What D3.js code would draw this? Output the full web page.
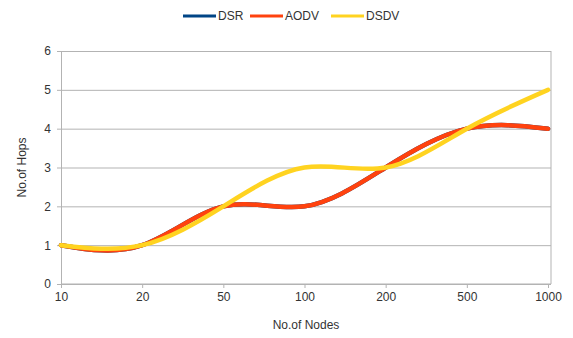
<!DOCTYPE html>
<html>
<head>
<meta charset="utf-8">
<script src="https://cdn.jsdelivr.net/npm/d3@7.9.0/dist/d3.min.js"></script>
<style>
  html, body { margin: 0; padding: 0; background: #fff; }
  svg { display: block; font-family: "Liberation Sans", Arial, sans-serif; }
  .grid line { stroke: #b3b3b3; }
  .grid path { display: none; }
  .axis path, .axis line { stroke: #b3b3b3; }
  .axis text { fill: #333; font-size: 12px; }
</style>
</head>
<body>
<div id="chart"></div>
<script>
// categories on the x axis (node counts)
const nodes = ['10', '20', '50', '100', '200', '500', '1000'];
// hop counts per protocol
const dsr  = [1, 1, 2, 2, 3, 4, 4];
const aodv = [1, 1, 2, 2, 3, 4, 4];
const dsdv = [1, 1, 2, 3, 3, 4, 5];
const yTicks = [0, 1, 2, 3, 4, 5, 6];

const seriesNames  = ['DSR', 'AODV', 'DSDV'];
const seriesValues = [dsr, aodv, dsdv];
const colors = ['#004586', '#ff420e', '#ffd320'];

const width = 573, height = 338;
const margin = { top: 51, right: 22, bottom: 54, left: 61 };

const svg = d3.select('#chart').append('svg')
  .attr('width', width)
  .attr('height', height);

const x = d3.scalePoint()
  .domain(nodes)
  .range([margin.left, width - margin.right - 3]);

const y = d3.scaleLinear()
  .domain([0, 6])
  .range([height - margin.bottom, margin.top]);

// horizontal gridlines
svg.append('g')
  .attr('class', 'grid')
  .attr('transform', `translate(${margin.left},0)`)
  .call(d3.axisLeft(y).tickValues(yTicks).tickFormat('')
    .tickSize(-(width - margin.right - margin.left)));

// right border line
svg.append('line')
  .attr('x1', width - margin.right).attr('x2', width - margin.right)
  .attr('y1', margin.top).attr('y2', y(0))
  .attr('stroke', '#b3b3b3');

// axes
svg.append('g')
  .attr('class', 'axis')
  .attr('transform', `translate(${margin.left},0)`)
  .call(d3.axisLeft(y).tickValues(yTicks).tickFormat(d3.format('d'))
    .tickSize(4).tickPadding(6).tickSizeOuter(0));

svg.append('g')
  .attr('class', 'axis')
  .attr('transform', `translate(0,${y(0)})`)
  .call(d3.axisBottom(x).tickSize(4).tickPadding(4).tickSizeOuter(0))
  .call(g => g.select('.domain').attr('d', `M${margin.left},0H${width - margin.right}`));

// axis titles
svg.append('text')
  .attr('x', (margin.left + width - margin.right) / 2)
  .attr('y', 329)
  .attr('text-anchor', 'middle')
  .attr('font-size', 12)
  .attr('fill', '#333')
  .text('No.of Nodes');

svg.append('text')
  .attr('transform', `translate(26,${(margin.top + y(0)) / 2}) rotate(-90)`)
  .attr('text-anchor', 'middle')
  .attr('font-size', 12)
  .attr('fill', '#333')
  .text('No.of Hops');

// smoothed lines
const line = d3.line()
  .x((d, i) => x(nodes[i]))
  .y(d => y(d))
  .curve(d3.curveNatural);

seriesValues.forEach((vals, i) => {
  svg.append('path')
    .attr('d', line(vals))
    .attr('fill', 'none')
    .attr('stroke', colors[i])
    .attr('stroke-width', 4.5)
    .attr('stroke-linecap', 'round');
});

// legend
const legendX = [183, 250, 331];
const legend = svg.append('g');
seriesNames.forEach((name, i) => {
  legend.append('line')
    .attr('x1', legendX[i]).attr('x2', legendX[i] + 33)
    .attr('y1', 16).attr('y2', 16)
    .attr('stroke', colors[i])
    .attr('stroke-width', 3);
  legend.append('text')
    .attr('x', legendX[i] + 35)
    .attr('y', 20)
    .attr('font-size', 12)
    .attr('fill', '#333')
    .text(name);
});
</script>
</body>
</html>
